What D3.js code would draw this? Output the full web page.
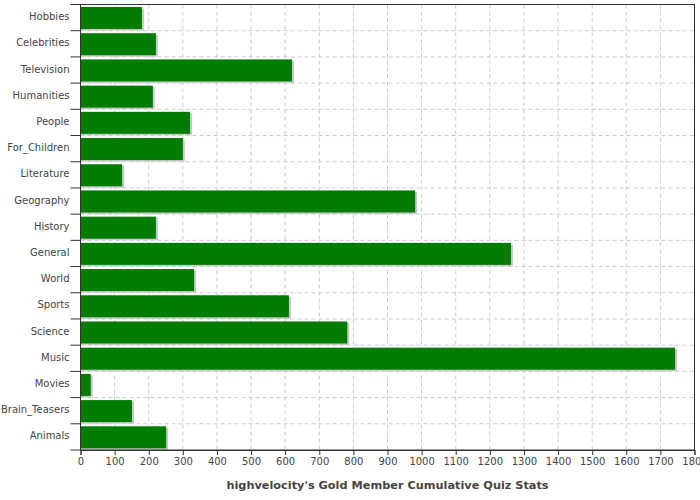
<!DOCTYPE html>
<html>
<head>
<meta charset="utf-8">
<script src="https://cdn.jsdelivr.net/npm/d3@7"></script>
<style>
  body { margin: 0; background: #fff; }
  text { font-family: "DejaVu Sans", sans-serif; }
</style>
</head>
<body>
<div id="chart"></div>
<script>
var width = 700;
var height = 500;

// data
var categories = ["Hobbies", "Celebrities", "Television", "Humanities", "People", "For_Children",
  "Literature", "Geography", "History", "General", "World", "Sports", "Science", "Music",
  "Movies", "Brain_Teasers", "Animals"];
var scores = [180, 221, 620, 212, 321, 300, 122, 981, 221, 1262, 333, 611, 782, 1743, 30, 151, 251];
var xTicks = d3.range(0, 1801, 100);
var title = "highvelocity's Gold Member Cumulative Quiz Stats";

var margin = {top: 4.5, right: 5.5, bottom: 50, left: 80.5};
var plotW = width - margin.left - margin.right;
var plotH = height - margin.top - margin.bottom;

var svg = d3.select("#chart").append("svg")
    .attr("width", width)
    .attr("height", height);

var g = svg.append("g")
    .attr("transform", "translate(" + margin.left + "," + margin.top + ")");

var x = d3.scaleLinear().domain([0, 1800]).range([0, plotW]);
var y = d3.scaleBand().domain(categories).range([0, plotH]).padding(0);

// grid (dashed)
g.selectAll("line.vgrid")
  .data(xTicks.slice(1, -1))
  .enter().append("line")
    .attr("class", "vgrid")
    .attr("x1", d => x(d)).attr("x2", d => x(d))
    .attr("y1", 0).attr("y2", plotH)
    .style("stroke", "#c4ccd4")
    .style("stroke-width", 1)
    .style("stroke-dasharray", "4,3");

g.selectAll("line.hgrid")
  .data(categories.slice(1))
  .enter().append("line")
    .attr("class", "hgrid")
    .attr("x1", 0).attr("x2", plotW)
    .attr("y1", d => y(d)).attr("y2", d => y(d))
    .style("stroke", "#c4ccd4")
    .style("stroke-width", 1)
    .style("stroke-dasharray", "4,3");

var step = y.bandwidth();
var barTop = 2.5;
var barH = step - 4.2;

// shadows
g.selectAll("rect.shadow")
  .data(scores)
  .enter().append("rect")
    .attr("class", "shadow")
    .attr("x", 0)
    .attr("y", (d, i) => y(categories[i]) + barTop + 1.5)
    .attr("width", d => x(d) + 2)
    .attr("height", barH)
    .style("fill", "#c8c8c8");

// bars
g.selectAll("rect.bar")
  .data(scores)
  .enter().append("rect")
    .attr("class", "bar")
    .attr("x", 0)
    .attr("y", (d, i) => y(categories[i]) + barTop)
    .attr("width", d => x(d))
    .attr("height", barH)
    .style("fill", "#007c00");

// frame
g.append("rect")
  .attr("x", 0).attr("y", 0)
  .attr("width", plotW).attr("height", plotH)
  .style("fill", "none")
  .style("stroke", "#333")
  .style("stroke-width", 1);

// bottom axis
var xAxis = g.append("g")
  .attr("transform", "translate(0," + plotH + ")")
  .call(d3.axisBottom(x).tickValues(xTicks).tickSize(5).tickPadding(3).tickFormat(d3.format("d")));
xAxis.select(".domain").style("stroke", "#333");
xAxis.selectAll(".tick line").style("stroke", "#333");
xAxis.selectAll("text")
  .style("font-family", "'DejaVu Sans', sans-serif")
  .style("font-size", "10px")
  .style("fill", "#444");

// left axis: ticks on category boundaries, labels centred in rows
var leftTicks = categories.map(c => y(c)).concat([plotH]);
g.selectAll("line.ytick")
  .data(leftTicks)
  .enter().append("line")
    .attr("class", "ytick")
    .attr("x1", -10).attr("x2", 0)
    .attr("y1", d => d).attr("y2", d => d)
    .style("stroke", "#333");

g.selectAll("text.ylabel")
  .data(categories)
  .enter().append("text")
    .attr("class", "ylabel")
    .attr("x", -11)
    .attr("y", d => y(d) + step / 2)
    .attr("dy", "0.25em")
    .attr("text-anchor", "end")
    .style("font-size", "10px")
    .style("fill", "#444")
    .text(d => d);

// title under the axis
svg.append("text")
  .attr("x", margin.left + plotW / 2)
  .attr("y", 489)
  .attr("text-anchor", "middle")
  .style("font-size", "11.3px")
  .style("font-weight", "bold")
  .style("fill", "#444")
  .text(title);
</script>
</body>
</html>
